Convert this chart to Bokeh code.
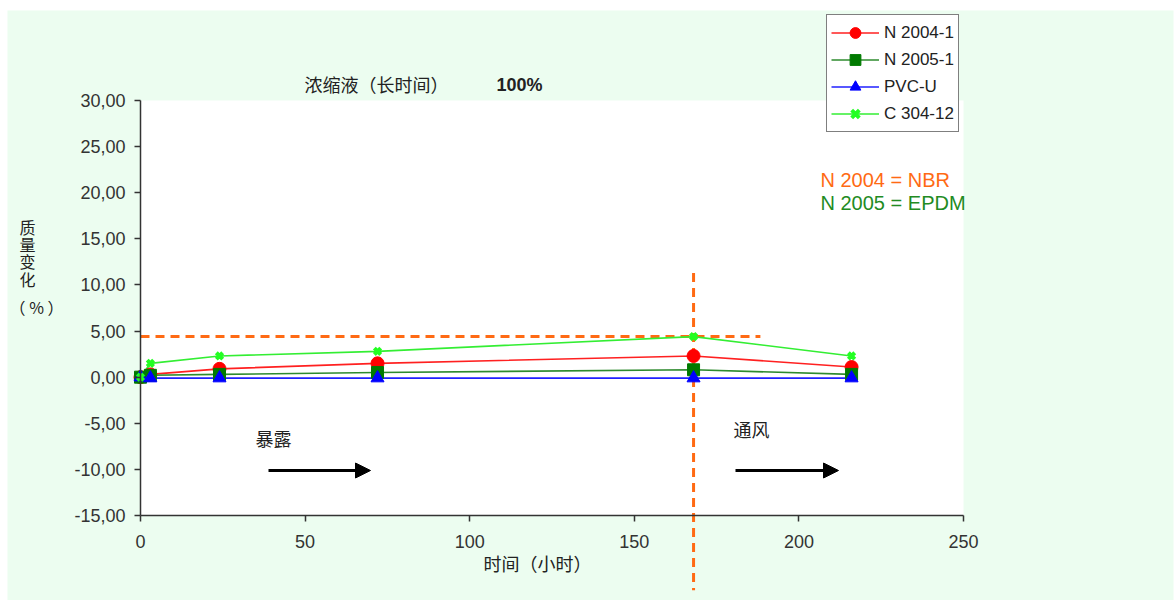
from bokeh.plotting import figure
from bokeh.models import (Range1d, Label, Arrow, NormalHead, Legend, LegendItem, FixedTicker,
                          ColumnDataSource, LinearAxis, BoxAnnotation)
from bokeh.embed import file_html
from bokeh.resources import INLINE

# ---- data ----
hours = [0, 3, 24, 72, 168, 216]
n2004 = [0.0, 0.3, 0.9, 1.5, 2.3, 1.1]
n2005 = [0.0, 0.2, 0.3, 0.5, 0.8, 0.3]
pvcu = [0.0, -0.1, -0.1, -0.1, -0.1, -0.1]
c304 = [0.0, 1.5, 2.3, 2.8, 4.4, 2.3]
series_names = ["N 2004-1", "N 2005-1", "PVC-U", "C 304-12"]

y_ticks = [-15, -10, -5, 0, 5, 10, 15, 20, 25, 30]
x_ticks = [0, 50, 100, 150, 200, 250]
x_lim = (0, 250)
y_lim = (-15, 30)

hline_y = 4.4
hline_x = [0, 188.3]
vline_x = 168
vline_y = [11.3, -23.1]

# ---- layout geometry (screen px) ----
W, H = 1174, 600
FL, FR, FT, FB = 140, 963, 100, 515   # plot area edges
PX = (FR - FL) / (x_lim[1] - x_lim[0])
PY = (FB - FT) / (y_lim[1] - y_lim[0])
def X(sx): return x_lim[0] + (sx - FL) / PX
def Y(sy): return y_lim[1] - (sy - FT) / PY

BG = "#ecfdf0"
FONT = "Liberation Sans"
CJK = "Noto Sans CJK SC"

p = figure(width=W, height=H, output_backend="svg", toolbar_location=None,
           x_range=Range1d(X(0), X(W)), y_range=Range1d(Y(H), Y(0)),
           x_axis_location=None, y_axis_location=None,
           min_border=0)
p.border_fill_color = "white"
p.background_fill_color = "white"
p.outline_line_color = None
p.grid.visible = False

p.add_layout(BoxAnnotation(left=X(7), right=X(1173), top=Y(10), bottom=Y(H + 20),
                           fill_color=BG, fill_alpha=1, line_color=None, level="underlay"))
p.add_layout(BoxAnnotation(left=x_lim[0], right=x_lim[1], top=y_lim[1], bottom=y_lim[0],
                           fill_color="white", fill_alpha=1, line_color=None, level="underlay"))

yax = LinearAxis(fixed_location=x_lim[0], bounds=y_lim, ticker=FixedTicker(ticks=y_ticks))
xax = LinearAxis(fixed_location=y_lim[0], bounds=x_lim, ticker=FixedTicker(ticks=x_ticks))
yax.major_label_overrides = {t: ("%.2f" % t).replace(".", ",") for t in y_ticks}
yax.major_label_standoff = 9
xax.major_label_standoff = 13
for ax in (xax, yax):
    ax.axis_line_color = "#333333"
    ax.axis_line_width = 1.5
    ax.major_tick_line_color = "#333333"
    ax.major_tick_line_width = 1.5
    ax.minor_tick_line_color = None
    ax.major_tick_out = 6
    ax.major_tick_in = 0
    ax.major_label_text_font = FONT
    ax.major_label_text_font_size = "18px"
    ax.major_label_text_color = "#333333"
p.add_layout(yax, "left")
p.add_layout(xax, "below")

src = ColumnDataSource(dict(x=hours, a=n2004, b=n2005, c=pvcu, d=c304))

# orange reference lines
p.line(hline_x, [hline_y, hline_y], line_color="#ff6a13", line_width=3, line_dash="9 6")
p.line([vline_x, vline_x], vline_y, line_color="#ff6a13", line_width=3, line_dash="9 6")

r_line = p.line("x", "a", source=src, line_color="#ff2020", line_width=1.6)
g_line = p.line("x", "b", source=src, line_color="#2e8b2e", line_width=1.6)
b_line = p.line("x", "c", source=src, line_color="#2020ff", line_width=1.6)
l_line = p.line("x", "d", source=src, line_color="#33ee33", line_width=1.6)
r_mk = p.scatter("x", "a", source=src, marker="circle", size=13, fill_color="#ff0000", line_color="#ff0000")
g_mk = p.scatter("x", "b", source=src, marker="square", size=12, fill_color="#007a00", line_color="#007a00")
b_mk = p.scatter("x", "c", source=src, marker="triangle", size=13, fill_color="#0000ff", line_color="#0000ff")
l_mk = p.scatter("x", "d", source=src, marker="x", size=9, line_color="#22ff22", line_width=4)

# exposure / ventilation arrows
for xs, xe in [(X(268), X(370)), (X(735), X(838))]:
    p.add_layout(Arrow(x_start=xs, y_start=Y(470), x_end=xe, y_end=Y(470), line_color="black", line_width=3,
                       end=NormalHead(size=15, fill_color="black", line_color="black")))

def lab(sx, sy, t, font=CJK, size="18px", color="#222222", align="left", style="normal"):
    p.add_layout(Label(x=X(sx), y=Y(sy), text=t, text_font=font, text_font_size=size, text_color=color,
                       text_align=align, text_baseline="middle", text_font_style=style))

lab(255, 437, "暴露")
lab(733, 428, "通风")
lab(304, 83, "浓缩液（长时间）")
lab(496, 84, "100%", font=FONT, style="bold")
lab(483, 562, "时间（小时）")
lab(820, 179, "N 2004 = NBR", font=FONT, size="20px", color="#ff6a13")
lab(820, 202, "N 2005 = EPDM", font=FONT, size="20px", color="#228b22")

for ch, sy in zip(["质", "量", "变", "化"], [226, 243, 260, 278]):
    lab(27, sy, ch, size="16px", align="center")
lab(36, 306, "（ % ）", size="16px", align="center")

legend = Legend(items=[
    LegendItem(label=series_names[0], renderers=[r_line, r_mk]),
    LegendItem(label=series_names[1], renderers=[g_line, g_mk]),
    LegendItem(label=series_names[2], renderers=[b_line, b_mk]),
    LegendItem(label=series_names[3], renderers=[l_line, l_mk]),
], location=(826, H - 132), label_text_font=FONT, label_text_font_size="17px", label_text_color="#222222",
    glyph_width=48, glyph_height=27, label_height=27, spacing=0, padding=4, margin=0,
    background_fill_color="white", background_fill_alpha=1.0, border_line_color="black", border_line_width=1.5,
    label_standoff=5)
p.add_layout(legend, "center")

open("out.html", "w").write(file_html(p, INLINE))
